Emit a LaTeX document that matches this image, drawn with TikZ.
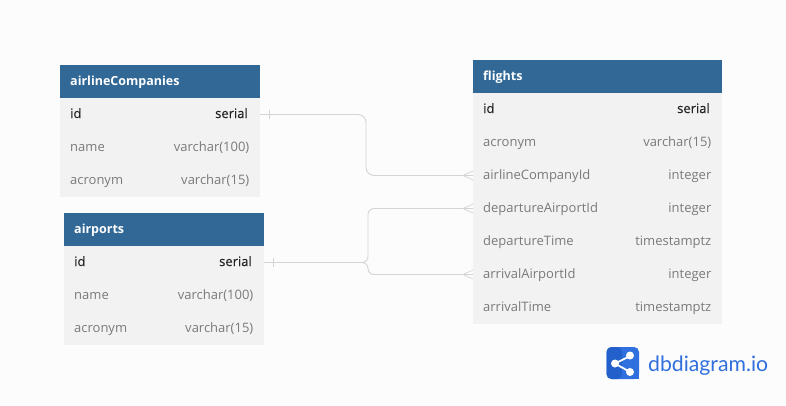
\documentclass[tikz,border=0pt]{standalone}
\usepackage{fontspec}
\setmainfont{Open Sans}
\newfontfamily\logofont{Lato}
\definecolor{pagebg}{HTML}{FCFCFC}
\definecolor{headblue}{HTML}{316896}
\definecolor{bodygrey}{HTML}{F2F2F2}
\definecolor{mutedtext}{HTML}{7A7A7A}
\definecolor{darktext}{HTML}{222222}
\definecolor{linkgrey}{HTML}{D4D4D4}
\definecolor{logoblue}{HTML}{2F6FDE}
\definecolor{logodark}{HTML}{2360CC}
\tikzset{
  x=1pt,y=-1pt,
  headbox/.style={fill=headblue,draw=none,inner sep=0pt,minimum height=33pt,anchor=north west},
  bodybox/.style={fill=bodygrey,draw=none,inner sep=0pt,anchor=north west},
  headtext/.style={anchor=base west,inner sep=0pt,text=white,font=\fontsize{12.5}{14}\selectfont\bfseries},
  keyl/.style={anchor=base west,inner sep=0pt,text=darktext,font=\fontsize{13}{14}\selectfont\addfontfeatures{FakeBold=0.35}},
  keyr/.style={anchor=base east,inner sep=0pt,text=darktext,font=\fontsize{13}{14}\selectfont\addfontfeatures{FakeBold=0.35}},
  fieldl/.style={anchor=base west,inner sep=0pt,text=mutedtext,font=\fontsize{13}{14}\selectfont},
  fieldr/.style={anchor=base east,inner sep=0pt,text=mutedtext,font=\fontsize{13}{14}\selectfont},
  link/.style={draw=linkgrey,line width=0.9pt,rounded corners=8pt},
  tick/.style={draw=linkgrey,line width=0.7pt},
  logoglyph/.style={draw=white,line width=1.8pt},
}
\begin{document}
\begin{tikzpicture}
\useasboundingbox (0,0) rectangle (786,405);
\fill[pagebg] (0,0) rectangle (786,405);

% airlineCompanies
\node[bodybox,minimum width=199.5pt,minimum height=99pt] (acbody) at (60,98) {};
\node[headbox,minimum width=199.5pt] (achead) at (60,65) {};
\node[headtext] (actitle) at (70,85.5) {airlineCompanies};
\node[keyl] (acidl) at (70,118) {id};
\node[keyr] (acidr) at (248,118) {serial};
\node[fieldl] (acnamel) at (70,151) {name};
\node[fieldr] (acnamer) at (249.5,151) {varchar(100)};
\node[fieldl] (acacrl) at (70,184) {acronym};
\node[fieldr] (acacrr) at (249.5,184) {varchar(15)};

% airports
\node[bodybox,minimum width=199.5pt,minimum height=99pt] (apbody) at (64,246) {};
\node[headbox,minimum width=199.5pt] (aphead) at (64,213) {};
\node[headtext] (aptitle) at (74,233.5) {airports};
\node[keyl] (apidl) at (74,266) {id};
\node[keyr] (apidr) at (252,266) {serial};
\node[fieldl] (apnamel) at (74,299) {name};
\node[fieldr] (apnamer) at (253.5,299) {varchar(100)};
\node[fieldl] (apacrl) at (74,332) {acronym};
\node[fieldr] (apacrr) at (253.5,332) {varchar(15)};

% flights
\node[bodybox,minimum width=249pt,minimum height=231pt] (flbody) at (473,93) {};
\node[headbox,minimum width=249pt] (flhead) at (473,60) {};
\node[headtext] (fltitle) at (483,80.5) {flights};
\node[keyl] (flidl) at (483,113) {id};
\node[keyr] (flidr) at (710,113) {serial};
\node[fieldl] (flacrl) at (483,146) {acronym};
\node[fieldr] (flacrr) at (711.5,146) {varchar(15)};
\node[fieldl] (flairl) at (483,179) {airlineCompanyId};
\node[fieldr] (flairr) at (711.5,179) {integer};
\node[fieldl] (fldepl) at (483,212) {departureAirportId};
\node[fieldr] (fldepr) at (711.5,212) {integer};
\node[fieldl] (fldtl) at (483,245) {departureTime};
\node[fieldr] (fldtr) at (711.5,245) {timestamptz};
\node[fieldl] (flarrl) at (483,278) {arrivalAirportId};
\node[fieldr] (flarrr) at (711.5,278) {integer};
\node[fieldl] (flatl) at (483,311) {arrivalTime};
\node[fieldr] (flatr) at (711.5,311) {timestamptz};

% connector end points
\coordinate (acout) at (260,114.5);
\coordinate (apout) at (264,262.5);
\coordinate (flin1) at (473,175.5);
\coordinate (flin2) at (473,208.5);
\coordinate (flin3) at (473,274.5);

% connectors
\draw[link] (acout) -| (366,175.5) -- (flin1);
\draw[link] (apout) -- (362,262.5);
\draw[link,rounded corners=6pt] (360,262.5) -- (368,262.5) |- (flin2);
\draw[link,rounded corners=6pt] (360,262.5) -- (368,262.5) |- (flin3);

% crow's feet
\foreach \yy in {175.5,208.5,274.5}{
  \draw[tick] (463,\yy) -- (473,\yy-4.5);
  \draw[tick] (463,\yy) -- (473,\yy+4.5);
}
% one-bars
\draw[tick] (269.5,110) -- (269.5,119);
\draw[tick] (273.5,258) -- (273.5,267);

% logo
\fill[logoblue,rounded corners=5pt] (606.5,347) rectangle (639,379);
\fill[logodark,rounded corners=5pt] (606.5,347) rectangle (622,379);
\fill[logoblue] (622,363) rectangle (639,379);
\draw[logoglyph] (630,356) -- (615,363.5) -- (630,372);
\fill[white] (630,355.5) circle (4);
\fill[white] (630,372) circle (4);
\fill[white] (615,363.5) circle (4);
\node[anchor=base west,inner sep=0pt,text=logoblue,font=\logofont\fontsize{21.2}{24}\selectfont] (logotext) at (648,371) {dbdiagram.io};
\end{tikzpicture}
\end{document}
